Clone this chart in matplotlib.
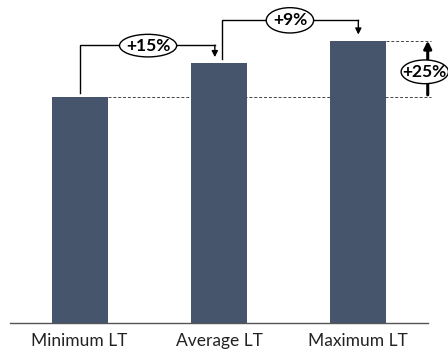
import matplotlib
matplotlib.use("Agg")
import matplotlib.pyplot as plt
from matplotlib.patches import Ellipse

categories = ["Minimum LT", "Average LT", "Maximum LT"]
values = [100, 115, 125]
step_labels = ["+15%", "+9%"]
total_label = "+25%"

plt.rcParams['font.family'] = ['Lato', 'DejaVu Sans']

fig = plt.figure(figsize=(4.48, 3.53), dpi=100)
ax = fig.add_axes([10 / 448, 30 / 353, 418 / 448, 323 / 353])

x = list(range(len(categories)))
bar_w = 0.4
ax.bar(x, values, width=bar_w, color="#46556b", zorder=3)

ax.set_xlim(-0.5, 2.5)
ax.set_ylim(0, 143)
ax.set_xticks(x)
ax.set_xticklabels(categories, fontsize=12.5, color="#222222")
ax.tick_params(axis="x", length=0, pad=7)
ax.set_yticks([])
for s in ["top", "left", "right"]:
    ax.spines[s].set_visible(False)
ax.spines["bottom"].set_color("#555555")
ax.spines["bottom"].set_linewidth(1.0)

# dashed reference levels for minimum and maximum
ax.plot([x[0] + bar_w / 2, 2.52], [values[0], values[0]], ls=(0, (3, 2)),
        color="#444444", lw=0.7, zorder=2, clip_on=False)
ax.plot([x[2] + bar_w / 2, 2.52], [values[2], values[2]], ls=(0, (3, 2)),
        color="#444444", lw=0.7, zorder=2, clip_on=False)

arrow_kw = dict(arrowstyle="-|>", color="black", lw=1.0, mutation_scale=9,
                shrinkA=0, shrinkB=0)


def bracket(x0, x1, v0, v1, level):
    ax.plot([x0, x0, x1], [v0 + 2, level, level], color="black", lw=1.0,
            zorder=4, clip_on=False, solid_joinstyle="miter")
    ax.annotate("", xy=(x1, v1 + 2.7), xytext=(x1, level),
                arrowprops=arrow_kw, zorder=4, annotation_clip=False)


def oval(cx, cy, w, h, text):
    e = Ellipse((cx, cy), w, h, facecolor="white", edgecolor="black",
                lw=1.0, zorder=5, clip_on=False)
    ax.add_patch(e)
    ax.text(cx, cy, text, ha="center", va="center", fontsize=12.5,
            fontweight="bold", zorder=6, clip_on=False)


# step brackets between neighbouring bars
bracket(x[0], x[1] - 0.03, values[0], values[1], 123)
bracket(x[1] + 0.02, x[2], values[1], values[2], 134)
oval(0.491, 122.8, 0.41, 10.0, step_labels[0])
oval(1.509, 134.0, 0.34, 11.2, step_labels[1])

# overall increase arrow
ax.annotate("", xy=(2.498, values[2]), xytext=(2.498, values[0] + 1),
            arrowprops=dict(arrowstyle="-|>", color="black", lw=2.2,
                            mutation_scale=11, shrinkA=0, shrinkB=0),
            zorder=4, annotation_clip=False)
oval(2.477, 111.2, 0.34, 10.5, total_label)

fig.savefig("out.png", dpi=100)
